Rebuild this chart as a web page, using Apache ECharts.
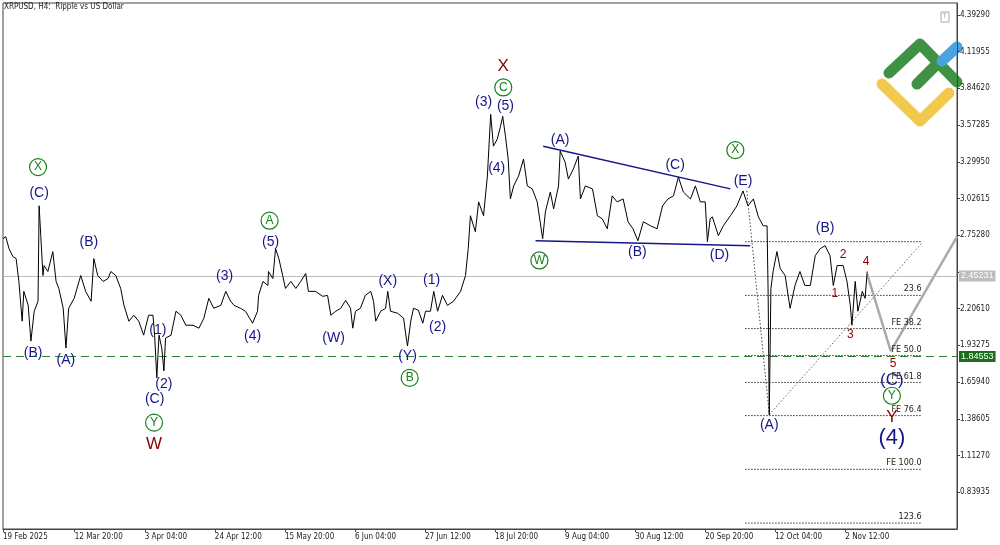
<!DOCTYPE html>
<html>
<head>
<meta charset="utf-8">
<script src="https://cdn.jsdelivr.net/npm/echarts@6/dist/echarts.min.js"></script>
<style>
  html, body { margin: 0; padding: 0; background: #fff; }
  #chart { width: 1000px; height: 545px; }
</style>
</head>
<body>
<div id="chart"></div>
<script>
// H4 bar index (0 = 19 Feb 2025 00:00) and price
const barIdx = [0,5,11,18,24,29,35,38,46,51,57,64,66,69,73,75,82,91,97,102,110,115,120,130,142,151,161,166,173,183,192,197,206,215,221,230,239,248,257,266,274,277,281,285,290,294,297,307,316,325,334,347,358,367,376,385,398,407,416,422,434,443,456,465,467,475,484,485,493,498,504,511,516,526,535,544,553,558,571,584,593,599,608,617,626,635,639,644,653,662,672,677,681,690,699,703,708,721,732,735,739,745,750,759,767,772,781,787,794,803,812,823,836,845,850,854,863,869,878,885,891,896,903,909,913,918,923,927,933,942,951,958,967,976,986,991,1000,1006,1015,1018,1027,1033,1042,1051,1055,1064,1077,1086,1095,1104,1113,1122,1133,1142,1151,1160,1170,1183,1195,1205,1215,1225,1234,1243,1256,1265,1274,1283,1287,1292,1296,1307,1316,1329,1341,1352,1361,1371,1380,1389,1396,1398,1400,1403,1407,1414,1420,1429,1438,1447,1456,1465,1475,1484,1493,1502,1511,1517,1524,1535,1542,1548,1551,1557,1562,1570,1575,1579];
const price = [2.727,2.742,2.653,2.594,2.579,2.409,2.113,2.335,2.231,1.965,2.187,2.261,2.972,2.750,2.453,2.527,2.483,2.631,2.409,2.357,2.209,1.913,2.209,2.283,2.453,2.335,2.261,2.579,2.453,2.409,2.431,2.483,2.453,2.357,2.231,2.113,2.157,2.113,2.009,2.157,2.157,2.009,1.691,2.009,1.913,1.743,1.987,2.009,2.187,2.157,2.083,2.083,2.061,2.135,2.283,2.209,2.231,2.335,2.261,2.231,2.209,2.187,2.098,2.187,2.305,2.409,2.379,2.483,2.431,2.653,2.579,2.453,2.357,2.409,2.357,2.409,2.468,2.335,2.335,2.298,2.305,2.157,2.187,2.209,2.268,2.209,2.061,2.187,2.209,2.305,2.335,2.261,2.113,2.187,2.209,2.335,2.187,2.172,2.135,2.039,1.928,2.113,2.209,2.194,2.098,2.187,2.187,2.335,2.187,2.305,2.231,2.261,2.335,2.453,2.653,2.898,2.779,3.001,2.898,3.194,3.653,3.416,3.468,3.564,3.638,3.490,3.320,3.023,3.120,3.194,3.320,3.120,3.098,3.001,2.727,2.927,3.075,2.949,3.120,3.379,3.297,3.171,3.246,3.342,3.023,3.120,3.098,2.898,2.875,2.801,3.046,3.001,3.023,2.853,2.801,2.712,2.853,2.823,2.801,2.972,3.023,3.046,3.186,3.075,3.023,3.120,3.001,3.001,2.705,2.875,2.890,2.750,2.823,2.898,2.972,3.083,2.972,3.023,2.890,2.823,2.823,2.305,1.417,2.357,2.483,2.631,2.505,2.453,2.209,2.379,2.483,2.379,2.379,2.601,2.653,2.675,2.601,2.379,2.527,2.527,2.409,2.231,2.083,2.409,2.187,2.335,2.283,2.483];

const totalBars = 1744;
const tickIdx = [0,131,259,387,515,643,771,899,1027,1155,1283,1411,1539];
const tickLabels = ['19 Feb 2025','12 Mar 20:00','3 Apr 04:00','24 Apr 12:00','15 May 20:00','6 Jun 04:00','27 Jun 12:00','18 Jul 20:00','9 Aug 04:00','30 Aug 12:00','20 Sep 20:00','12 Oct 04:00','2 Nov 12:00'];

const yStep = 0.27335;
const yMin = 0.56600; // one step below 0.83935, ticks counted from here
const yMax = 4.4817;
const lastPrice = 2.45231;
const targetPrice = 1.84553;

// fibonacci levels (right side)
const fibLevels = [2.705,2.305,2.058,1.857,1.657,1.410,1.010,0.610];
const fibNames = ['','23.6','FE 38.2','FE 50.0','FE 61.8','FE 76.4','FE 100.0','123.6'];
const fibFrom = 1356, fibTo = 1679;

// trend lines [idx, price]
const triUpper = [[987,3.416],[1329,3.098]];
const triLower = [[973,2.712],[1365,2.675]];
const dropLine = [[1359,3.083],[1400,1.417]];
const channelLine = [[1400,1.417],[1681,2.705]];
const forecast = [[1579,2.461],[1622,1.891],[1743,2.742]];

// wave labels [text, idx, price, kind]
const waveLabels = [
  ['X',64,3.260,'c'],['(C)',66,3.068,'b'],['(B)',55,1.876,'b'],['(A)',115,1.824,'b'],['(B)',157,2.705,'b'],
  ['(1)',283,2.046,'b'],['(2)',294,1.647,'b'],['(C)',277,1.535,'b'],['Y',276,1.358,'c'],['W',276,1.195,'r'],
  ['(3)',405,2.446,'b'],['(4)',456,2.002,'b'],['A',487,2.861,'c'],['(5)',489,2.698,'b'],
  ['(W)',604,1.987,'b'],['(X)',703,2.409,'b'],['(Y)',739,1.854,'b'],['B',743,1.691,'c'],['(1)',783,2.416,'b'],['(2)',794,2.068,'b'],
  ['X',914,4.008,'r'],['C',914,3.853,'c'],['(3)',878,3.742,'b'],['(5)',918,3.712,'b'],['(4)',902,3.253,'b'],
  ['W',980,2.565,'c'],['(A)',1018,3.460,'b'],['(B)',1159,2.624,'b'],['(C)',1228,3.275,'b'],
  ['X',1338,3.386,'c'],['(E)',1352,3.157,'b'],['(D)',1309,2.601,'b'],['(B)',1502,2.809,'b'],['(A)',1400,1.336,'b'],
  ['1',1520,2.320,'n'],['2',1535,2.609,'n'],['3',1548,2.009,'n'],['4',1577,2.557,'n'],['5',1626,1.795,'n'],
  ['(C)',1624,1.676,'B'],['Y',1624,1.558,'c'],['Y',1624,1.395,'r'],['(4)',1624,1.247,'L']
];

const navy = '#15158a', dred = '#8b0000', green = '#17801a';

const chart = echarts.init(document.getElementById('chart'));
const cats = [];
for (let i = 0; i < totalBars; i++) cats.push(String(i));

function seg(pts, style) {
  return { type: 'line', data: pts, symbol: 'none', silent: true, lineStyle: style, z: 3 };
}

const series = [];
series.push({
  type: 'line', data: barIdx.map((b, k) => [b, price[k]]), symbol: 'none',
  lineStyle: { color: '#000', width: 1 }, z: 5,
  markLine: {
    silent: true, symbol: 'none', animation: false,
    data: [
      { yAxis: lastPrice, lineStyle: { color: '#bdbdbd', width: 1, type: 'solid' },
        label: { position: 'end', formatter: lastPrice.toFixed(5), backgroundColor: '#bdbdbd', color: '#fff',
                 fontSize: 9, padding: [1, 2], distance: 2 } },
      { yAxis: targetPrice, lineStyle: { color: '#2e7d32', width: 1, type: [8, 5] },
        label: { position: 'end', formatter: targetPrice.toFixed(5), backgroundColor: '#1b6e1b', color: '#fff',
                 fontSize: 9, padding: [1, 2], distance: 2 } }
    ]
  }
});
fibLevels.forEach(l => series.push(seg([[fibFrom, l], [fibTo, l]], { color: '#333', width: 1, type: [1.5, 1.5] })));
series.push(seg(triUpper, { color: navy, width: 1.5 }));
series.push(seg(triLower, { color: navy, width: 1.5 }));
series.push(seg(dropLine, { color: '#444', width: 1, type: [1.5, 2] }));
series.push(seg(channelLine, { color: '#666', width: 1, type: [1.5, 2] }));
series.push(seg(forecast, { color: '#aaaaaa', width: 2.5 }));

series.push({
  type: 'scatter', silent: true, z: 6, symbolSize: 1, itemStyle: { color: 'rgba(0,0,0,0)', opacity: 1 },
  data: fibLevels.map((l, k) => ({ value: [fibTo, l], name: fibNames[k] })),
  label: { show: true, formatter: '{b}', position: 'left', distance: 0, offset: [0, -6],
           fontSize: 8, color: '#222', fontFamily: 'DejaVu Sans' }
});

const styleOf = {
  b: { color: navy, fontSize: 14 },
  B: { color: navy, fontSize: 17 },
  L: { color: navy, fontSize: 22 },
  r: { color: dred, fontSize: 17 },
  n: { color: dred, fontSize: 12 },
  c: { color: green, fontSize: 12 }
};
series.push({
  type: 'scatter', silent: true, z: 7,
  data: waveLabels.map(w => {
    const s = styleOf[w[3]];
    const circ = w[3] === 'c';
    return {
      value: [w[1], w[2]], name: w[0],
      symbol: 'circle', symbolSize: circ ? 17 : 1,
      itemStyle: circ ? { color: 'rgba(255,255,255,0)', borderColor: green, borderWidth: 1.2, opacity: 1 }
                      : { color: 'rgba(255,255,255,0)', borderWidth: 0, opacity: 1 },
      label: { show: true, formatter: '{b}', position: 'inside', color: s.color, fontSize: s.fontSize,
               opacity: 1, fontFamily: 'Liberation Sans, Arial' }
    };
  })
});

chart.setOption({
  animation: false,
  backgroundColor: '#fff',
  grid: { left: 2, right: 43, top: 3, bottom: 16, show: true, borderColor: '#444', borderWidth: 1 },
  xAxis: {
    type: 'category', data: cats, boundaryGap: false,
    axisLine: { lineStyle: { color: '#444' } },
    axisTick: { show: true, interval: i => tickIdx.includes(i), length: 3, lineStyle: { color: '#444' } },
    axisLabel: { interval: i => tickIdx.includes(i), formatter: (v, i) => tickLabels[tickIdx.indexOf(i)] || '',
                 align: 'left', fontSize: 8, color: '#222', margin: 4, fontFamily: 'DejaVu Sans Condensed, DejaVu Sans' },
    splitLine: { show: false }
  },
  yAxis: {
    type: 'value', position: 'right', min: yMin, max: yMax, interval: yStep,
    axisLine: { show: true, lineStyle: { color: '#444' } },
    axisTick: { show: true, length: 3, lineStyle: { color: '#444' } },
    axisLabel: {
      formatter: v => (Math.abs(v - lastPrice) < 0.06 || Math.abs(v - targetPrice) < 0.06) ? '' : v.toFixed(5),
      fontSize: 8, color: '#222', margin: 3,
      showMinLabel: false, showMaxLabel: false, fontFamily: 'DejaVu Sans Condensed, DejaVu Sans' },
    splitLine: { show: false }
  },
  graphic: [
    { type: 'text', left: 4, top: 3, style: { text: 'XRPUSD, H4:  Ripple vs US Dollar', fontSize: 8, fill: '#222',
      fontFamily: 'DejaVu Sans Condensed, DejaVu Sans' } },
    { type: 'rect', shape: { x: 941, y: 12, width: 8, height: 10 }, style: { fill: '#fff', stroke: '#aaa', lineWidth: 1 } },
    { type: 'text', x: 942.5, y: 13, style: { text: 'T', fontSize: 7, fill: '#aaa' } },
    { type: 'polyline', shape: { points: [[882, 84], [920, 121], [949, 93]] },
      style: { stroke: '#f2c94c', lineWidth: 11, lineCap: 'round', lineJoin: 'round', fill: null } },
    { type: 'polyline', shape: { points: [[889, 73], [920, 44], [957, 82]] },
      style: { stroke: '#3f9143', lineWidth: 11, lineCap: 'round', lineJoin: 'round', fill: null } },
    { type: 'polyline', shape: { points: [[917, 84], [937, 64]] },
      style: { stroke: '#3f9143', lineWidth: 11, lineCap: 'round', fill: null } },
    { type: 'polyline', shape: { points: [[942, 61], [957, 47]] },
      style: { stroke: '#4aa3df', lineWidth: 11, lineCap: 'round', fill: null } }
  ],
  series: series
});
</script>
</body>
</html>
